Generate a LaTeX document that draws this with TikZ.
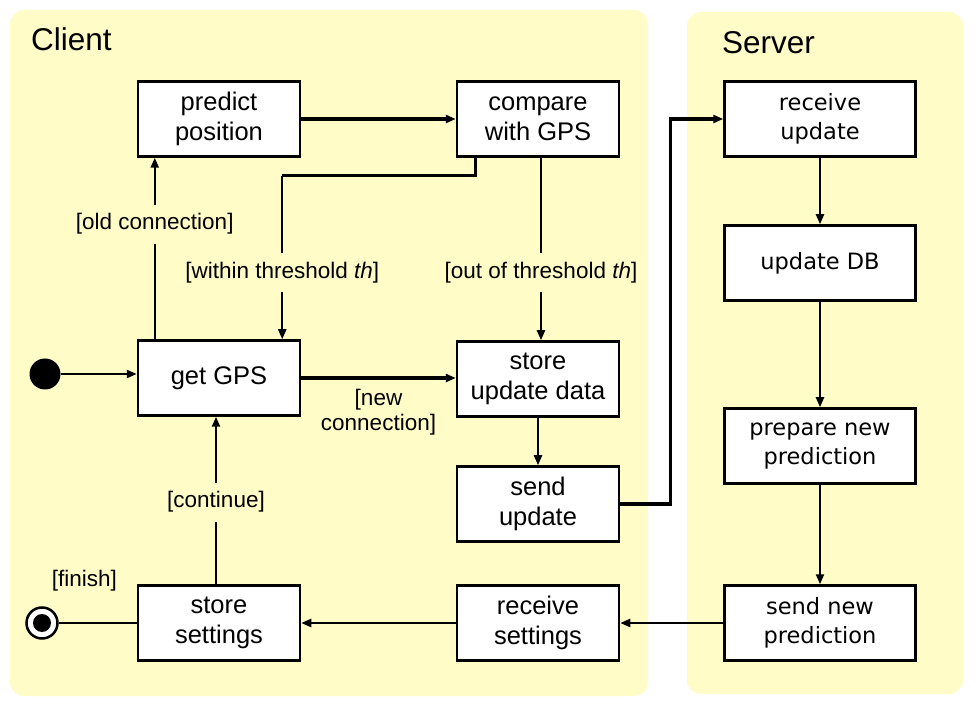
\documentclass[tikz,border=0pt]{standalone}
\usepackage{fontspec}
\setmainfont{Liberation Sans}
\newfontfamily\srvfont{DejaVu Sans}
\usetikzlibrary{arrows.meta}
\definecolor{panel}{RGB}{255,252,200}
\begin{document}
\begin{tikzpicture}[x=1pt,y=-1pt,
  cbox/.style={draw, line width=2.5pt, fill=white, minimum width=162pt, minimum height=75pt,
    inner sep=0pt, align=center, font=\fontsize{25.5}{29.5}\selectfont},
  sbox/.style={cbox, minimum width=191pt, font=\srvfont\fontsize{22.5}{29.5}\selectfont},
  lbl/.style={fill=panel, inner xsep=2pt, inner ysep=9pt, align=center,
    font=\fontsize{22.5}{25.5}\selectfont},
  conn/.style={line width=2.2pt, -{Triangle[length=10pt,width=8pt]}},
  thickconn/.style={conn, line width=3.4pt},
  title/.style={anchor=base west, inner sep=0pt, font=\fontsize{31.5}{36}\selectfont}
]
\useasboundingbox (0,0) rectangle (978,708);
\fill[white] (0,0) rectangle (978,708);
\fill[panel, rounded corners=14pt] (10,10) rectangle (648,696);
\fill[panel, rounded corners=14pt] (687,12) rectangle (963,694);
\node[title] (client) at (31,51) {Client};
\node[title] (server) at (722,54) {Server};

% client states
\node[cbox] (predict)  at (219,119) {predict\\position};
\node[cbox] (compare)  at (538,119) {compare\\with GPS};
\node[cbox] (getgps)   at (219,378) {get GPS};
\node[cbox] (store)    at (538,379) {store\\update data};
\node[cbox] (send)     at (538,504) {send\\update};
\node[cbox] (storeset) at (219,623) {store\\settings};
\node[cbox] (recset)   at (538,623) {receive\\settings};
% server states
\node[sbox] (recupd)   at (820,119) {receive\\update};
\node[sbox] (updb)     at (820,263) {update DB};
\node[sbox] (prep)     at (820,446) {prepare new\\prediction};
\node[sbox] (sendpred) at (820,623) {send new\\prediction};
% pseudo states
\node[circle, fill, minimum size=31pt, inner sep=0pt] (init) at (45,374) {};
\node[circle, draw, line width=2.5pt, fill=white, minimum size=31pt, inner sep=0pt] (final) at (42,623) {};
\node[circle, fill, minimum size=18pt, inner sep=0pt] (finaldot) at (final.center) {};
\coordinate (cstart) at ([xshift=20pt]compare.south west);
\coordinate (bend) at ([yshift=-18pt]cstart);
\coordinate (wtarget) at ([xshift=-19pt]getgps.north east);
\coordinate (bend2) at (bend -| wtarget);

% connectors
\draw[conn] (init.east) -- (init.east -| getgps.west);
\draw[thickconn] (predict) -- (compare);
\draw[conn] ([xshift=18pt]getgps.north west) --
  node[lbl, pos=0.634] (oldlbl) {[old connection]} ([xshift=18pt]predict.south west);
\draw[line width=3.4pt] (cstart) -- (bend) -- (bend2);
\draw[conn] (bend2) --
  node[lbl, pos=0.59] (withinlbl) {[within threshold \textit{th}]} (wtarget);
\draw[conn] ([xshift=3pt]compare.south) --
  node[lbl, pos=0.63] (outlbl) {[out of threshold \textit{th}]} ([xshift=3pt]store.north);
\draw[thickconn] (getgps) --
  node[lbl, fill=none, midway, yshift=-34pt] (newlbl) {[new\\connection]} (getgps -| store.west);
\draw[conn] (store) -- (send);
\draw[thickconn] (send.east) -- ++(50,0) |- (recupd.west);
\draw[conn] (recupd) -- (updb);
\draw[conn] (updb) -- (prep);
\draw[conn] (prep) -- (sendpred);
\draw[conn] (sendpred) -- (recset);
\draw[conn] (recset) -- (storeset);
\draw[conn] ([xshift=-3pt]storeset.north) --
  node[lbl, pos=0.49] (contlbl) {[continue]} ([xshift=-3pt]getgps.south);
\draw[line width=2.2pt] (storeset.west) --
  node[lbl, fill=none, pos=0.67, yshift=42pt] (finlbl) {[finish]} (final.east);
\end{tikzpicture}
\end{document}
